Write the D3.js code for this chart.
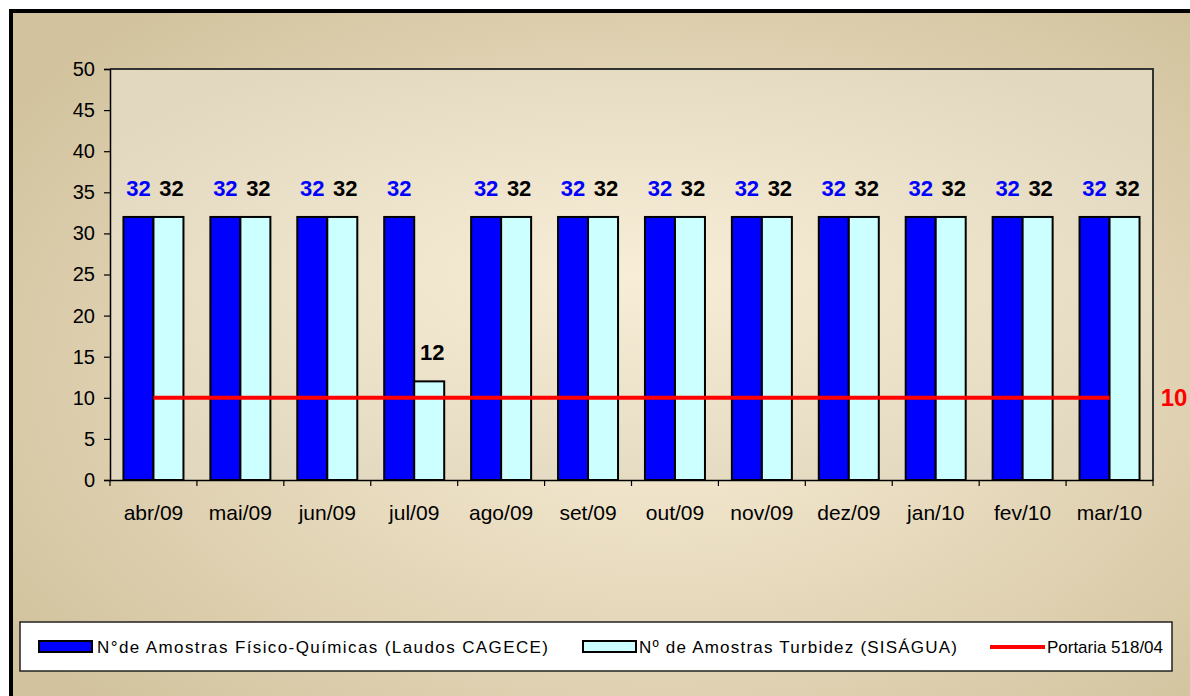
<!DOCTYPE html>
<html><head><meta charset="utf-8">
<script src="https://cdn.jsdelivr.net/npm/d3@7"></script>
<style>html,body{margin:0;padding:0;background:#fff;}svg{display:block;}</style>
</head><body>
<script>
const categories = ["abr/09","mai/09","jun/09","jul/09","ago/09","set/09","out/09","nov/09","dez/09","jan/10","fev/10","mar/10"];
const fisicoQuimicas = [32,32,32,32,32,32,32,32,32,32,32,32];
const turbidez = [32,32,32,12,32,32,32,32,32,32,32,32];
const portaria = [10,10,10,10,10,10,10,10,10,10,10,10];
const yTicks = [0,5,10,15,20,25,30,35,40,45,50];
const seriesNames = ["N°de Amostras Físico-Químicas (Laudos CAGECE)","Nº de Amostras Turbidez (SISÁGUA)","Portaria 518/04"];

const W = 1190, H = 696;
const svg = d3.select("body").append("svg").attr("width", W).attr("height", H)
  .style("font-family", "'Liberation Sans', Arial, sans-serif");
const defs = svg.append("defs");
const g1 = defs.append("radialGradient").attr("id","bg").attr("cx","50%").attr("cy","45%").attr("r","60%");
g1.append("stop").attr("offset","0%").attr("stop-color","#f9eed8");
g1.append("stop").attr("offset","100%").attr("stop-color","#d2c39e");
const g2 = defs.append("radialGradient").attr("id","pbg").attr("cx","50%").attr("cy","50%").attr("r","60%");
g2.append("stop").attr("offset","0%").attr("stop-color","#f8edd6");
g2.append("stop").attr("offset","100%").attr("stop-color","#e2d8bf");

svg.append("rect").attr("x",11).attr("y",11).attr("width",1300).attr("height",800)
  .attr("fill","url(#bg)").attr("stroke","#000").attr("stroke-width",4);

const m = {l:110, t:69, r:1153, b:480};
svg.append("rect").attr("x",m.l).attr("y",m.t).attr("width",m.r-m.l).attr("height",m.b-m.t)
  .attr("fill","url(#pbg)");

const x0 = d3.scaleBand().domain(categories).range([m.l, m.r]).padding(0);
const y = d3.scaleLinear().domain([0,50]).range([m.b, m.t]);
const barW = 30;

// plot border top/right
svg.append("path").attr("d",`M${m.l},${m.t}H${m.r}V${m.b}`).attr("fill","none").attr("stroke","#333").attr("stroke-width",2);

// y axis
const yAxis = svg.append("g").attr("transform",`translate(${m.l},0)`)
  .call(d3.axisLeft(y).tickValues(yTicks).tickSize(6).tickPadding(9));
yAxis.select(".domain").attr("stroke","#000").attr("stroke-width",1.5);
yAxis.selectAll(".tick line").attr("stroke","#000").attr("stroke-width",1.2);
yAxis.selectAll("text").attr("font-size",20).attr("fill","#000").attr("font-family","'Liberation Sans', Arial, sans-serif");

// x axis
const xAxis = svg.append("g").attr("transform",`translate(0,${m.b})`)
  .call(d3.axisBottom(x0).tickSize(0).tickPadding(25));
xAxis.select(".domain").attr("stroke","#000").attr("stroke-width",1.5);
xAxis.selectAll("text").attr("font-size",21).attr("fill","#000").attr("font-family","'Liberation Sans', Arial, sans-serif");
// boundary ticks
const bounds = categories.map(c => x0(c)).concat([m.r]);
svg.append("g").selectAll("line").data(bounds).join("line")
  .attr("x1",d=>d).attr("x2",d=>d).attr("y1",m.b).attr("y2",m.b+6).attr("stroke","#000").attr("stroke-width",1.2);

// bars
const cx = c => x0(c) + x0.bandwidth()/2;
svg.append("g").selectAll("rect").data(categories).join("rect")
  .attr("x",c=>cx(c)-barW).attr("y",(c,i)=>y(fisicoQuimicas[i])).attr("width",barW)
  .attr("height",(c,i)=>y(0)-y(fisicoQuimicas[i])).attr("fill","#0000ff").attr("stroke","#000").attr("stroke-width",2);
svg.append("g").selectAll("rect").data(categories).join("rect")
  .attr("x",c=>cx(c)).attr("y",(c,i)=>y(turbidez[i])).attr("width",barW)
  .attr("height",(c,i)=>y(0)-y(turbidez[i])).attr("fill","#ccffff").attr("stroke","#000").attr("stroke-width",2);

// line
const line = d3.line().x(d=>cx(d.c)).y(d=>y(d.v));
svg.append("path").datum(categories.map((c,i)=>({c, v:portaria[i]})))
  .attr("d",line).attr("fill","none").attr("stroke","#ff0000").attr("stroke-width",4);

// labels
svg.append("g").selectAll("text").data(categories).join("text")
  .attr("x",c=>cx(c)-barW/2).attr("y",(c,i)=>y(fisicoQuimicas[i])-21)
  .attr("text-anchor","middle").attr("font-size",22).attr("font-weight","bold").attr("fill","#0000ff")
  .text((c,i)=>fisicoQuimicas[i]);
svg.append("g").selectAll("text").data(categories).join("text")
  .attr("x",c=>cx(c)+barW/2+3).attr("y",(c,i)=>y(turbidez[i])-21)
  .attr("text-anchor","middle").attr("font-size",22).attr("font-weight","bold").attr("fill","#000")
  .text((c,i)=>turbidez[i]);
svg.append("text").attr("x",1174).attr("y",y(portaria[portaria.length-1])+8)
  .attr("text-anchor","middle").attr("font-size",24).attr("font-weight","bold").attr("fill","#ff0000")
  .text(portaria[portaria.length-1]);

// legend
const lg = svg.append("g");
lg.append("rect").attr("x",20).attr("y",622).attr("width",1152).attr("height",49)
  .attr("fill","#fff").attr("stroke","#222").attr("stroke-width",1.5);
lg.append("rect").attr("x",39).attr("y",641).attr("width",53).attr("height",11).attr("fill","#0000ff").attr("stroke","#000").attr("stroke-width",2);
lg.append("text").attr("x",97).attr("y",653).attr("font-size",17).attr("textLength",451).attr("lengthAdjust","spacing").text(seriesNames[0]);
lg.append("rect").attr("x",583).attr("y",641).attr("width",53).attr("height",11).attr("fill","#ccffff").attr("stroke","#000").attr("stroke-width",2);
lg.append("text").attr("x",639).attr("y",653).attr("font-size",17).attr("textLength",318).attr("lengthAdjust","spacing").text(seriesNames[1]);
lg.append("line").attr("x1",990).attr("x2",1045).attr("y1",647).attr("y2",647).attr("stroke","#ff0000").attr("stroke-width",4);
lg.append("text").attr("x",1047).attr("y",653).attr("font-size",17).attr("textLength",116).attr("lengthAdjust","spacing").text(seriesNames[2]);
</script>
</body></html>
